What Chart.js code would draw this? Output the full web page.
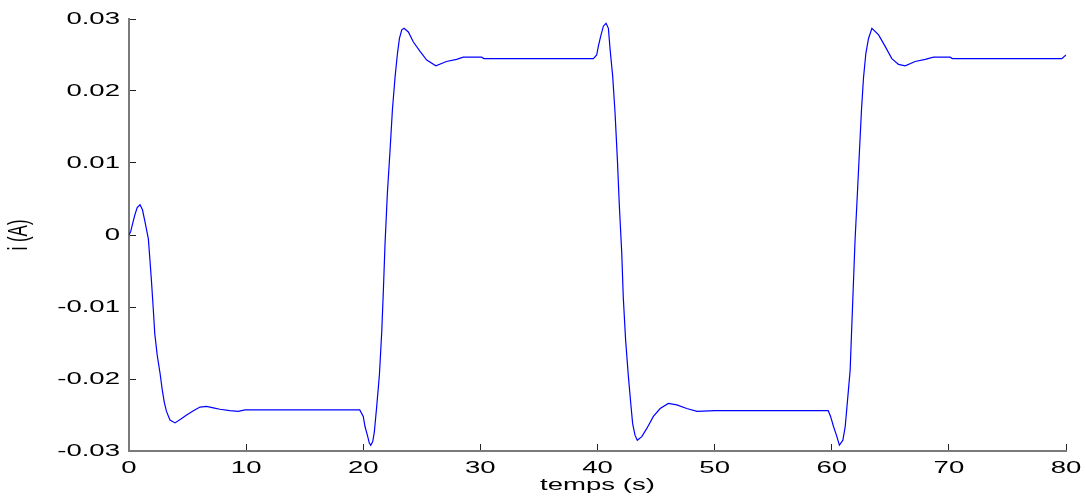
<!DOCTYPE html>
<html><head><meta charset="utf-8">
<script src="https://cdn.jsdelivr.net/npm/chart.js@4.4.1/dist/chart.umd.min.js"></script>
<style>html,body{margin:0;padding:0;background:#fff;overflow:hidden}</style>
</head><body>
<canvas id="c" width="1086" height="502" style="display:block;width:1086px;height:502px"></canvas>
<script>
const timeS = [0,0.15,0.3,0.5,0.7,0.94,1.15,1.37,1.65,1.79,1.93,2.07,2.2,2.41,2.65,2.84,3.01,3.2,3.5,3.93,4.4,4.92,5.5,6.06,6.62,7.2,7.76,8.6,9.33,9.9,
 19.7,20.0,20.15,20.35,20.52,20.64,20.81,20.95,21.15,21.38,21.58,21.72,21.86,22.06,22.29,22.49,22.72,22.92,23.09,23.29,23.48,23.85,24.28,24.85,25.42,26.2,27.1,27.97,28.54,30.1,30.3,
 39.65,39.93,40.07,40.27,40.5,40.73,40.93,41.08,41.3,41.5,41.7,41.87,42.07,42.2,42.4,42.64,42.84,43.0,43.2,43.4,43.78,44.2,44.77,45.35,46.05,46.77,47.62,48.5,50.05,
 59.7,59.9,60.15,60.4,60.65,60.95,61.15,61.35,61.57,61.71,61.85,61.99,62.19,62.37,62.54,62.71,62.91,63.14,63.43,64.0,64.56,65.13,65.7,66.27,67.12,67.98,68.69,70.1,70.3,79.64,80];
const currentA = [0,0.0005,0.0015,0.0028,0.0038,0.0042,0.0035,0.0018,-0.0005,-0.0035,-0.0067,-0.0102,-0.0137,-0.0167,-0.0192,-0.0215,-0.0232,-0.0245,-0.0257,-0.0261,-0.0256,-0.025,-0.0244,-0.0239,-0.0238,-0.024,-0.0242,-0.0244,-0.0245,-0.0243,
 -0.0243,-0.0252,-0.0266,-0.0278,-0.0289,-0.0292,-0.0287,-0.0273,-0.0238,-0.0194,-0.0134,-0.0076,-0.0012,0.0058,0.0118,0.0174,0.022,0.0252,0.0273,0.0285,0.0287,0.0282,0.0268,0.0255,0.0243,0.0235,0.0241,0.0244,0.0247,0.0247,0.0245,
 0.0245,0.025,0.0262,0.0276,0.029,0.0294,0.0287,0.0257,0.022,0.0169,0.0104,0.0039,-0.0025,-0.0086,-0.0146,-0.0197,-0.0234,-0.0262,-0.0278,-0.0285,-0.028,-0.0269,-0.0252,-0.0241,-0.0234,-0.0236,-0.0241,-0.0245,-0.0244,
 -0.0244,-0.0252,-0.0266,-0.0278,-0.0292,-0.0285,-0.0266,-0.0229,-0.0188,-0.0127,-0.0067,-0.0007,0.0058,0.0118,0.0174,0.0218,0.0252,0.0273,0.0287,0.0278,0.0262,0.0245,0.0237,0.0235,0.0241,0.0244,0.0247,0.0247,0.0245,0.0245,0.025];
const xTicks = [0,10,20,30,40,50,60,70,80];
const xTickLabels = ['0','10','20','30','40','50','60','70','80'];
const yTicks = [-0.03,-0.02,-0.01,0,0.01,0.02,0.03];
const yTickLabels = ['-0.03','-0.02','-0.01','0','0.01','0.02','0.03'];
const xTitle = 'temps (s)';
const yTitle = 'i (A)';

const canvas = document.getElementById('c');
const ctx = canvas.getContext('2d');
// the reference text is stretched horizontally; apply that stretch in screen space
const STRETCH = 1.62;
const origFill = ctx.fillText;
ctx.fillText = function(text, x, y, maxWidth) {
  const m = this.getTransform();
  const p = m.transformPoint(new DOMPoint(x, y));
  this.save();
  this.setTransform(new DOMMatrix().translate(p.x, p.y).scale(STRETCH, 1).translate(-p.x, -p.y).multiply(m));
  if (maxWidth === undefined) origFill.call(this, text, x, y); else origFill.call(this, text, x, y, maxWidth);
  this.restore();
};

const font = {family: '"Liberation Sans", Arial, sans-serif', size: 17};
new Chart(ctx, {
  type: 'line',
  data: {datasets: [{
    data: timeS.map((t, i) => ({x: t, y: currentA[i]})),
    borderColor: '#0000ff', borderWidth: 1.2, pointRadius: 0, tension: 0, fill: false
  }]},
  options: {
    responsive: false, animation: false, devicePixelRatio: 1,
    layout: {padding: {top: 19, right: 20, left: 0, bottom: 0}},
    plugins: {legend: {display: false}, tooltip: {enabled: false}},
    scales: {
      x: {
        type: 'linear', min: 0, max: 80,
        afterBuildTicks: s => { s.ticks = xTicks.map(v => ({value: v})); },
        afterFit: s => { s.height = 51; s.paddingLeft = 0; s.paddingRight = 0; },
        ticks: {autoSkip: false, maxRotation: 0, padding: 14, color: '#000', font,
          callback: (v, i) => xTickLabels[i]},
        grid: {drawOnChartArea: false, drawTicks: true, tickLength: -7, color: '#222', lineWidth: 1},
        border: {color: '#7a7a7a', width: 2},
        title: {display: true, text: xTitle, color: '#000', font, padding: {top: 0, bottom: 6}}
      },
      y: {
        type: 'linear', min: -0.03, max: 0.03,
        afterBuildTicks: s => { s.ticks = yTicks.map(v => ({value: v})); },
        afterFit: s => { s.width = 129; s.paddingTop = 0; s.paddingBottom = 0; },
        ticks: {autoSkip: false, padding: 16, color: '#000', font,
          callback: (v, i) => yTickLabels[i]},
        grid: {drawOnChartArea: false, drawTicks: true, tickLength: -7, color: '#222', lineWidth: 1},
        border: {color: '#7a7a7a', width: 2},
        title: {display: true, text: yTitle, color: '#000', font, padding: {top: 9, bottom: 0}}
      }
    }
  }
});
</script>
</body></html>
